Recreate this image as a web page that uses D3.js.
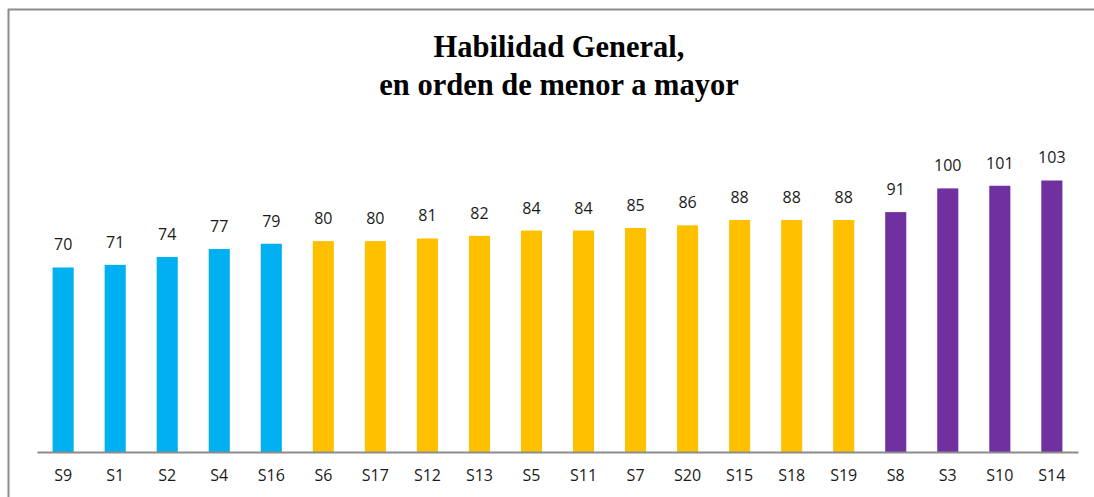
<!DOCTYPE html>
<html>
<head>
<meta charset="utf-8">
<script src="https://cdn.jsdelivr.net/npm/d3@7"></script>
<style>
  body { margin: 0; background: #fff; }
  .chart-title { font-family: "Liberation Serif", "Times New Roman", serif; font-weight: bold; font-size: 30.5px; fill: #000; }
  .val, .tick text { font-family: "Open Sans", sans-serif; font-size: 16px; fill: #1a1a1a; }
</style>
</head>
<body>
<div id="chart"></div>
<script>
var categories = ["S9", "S1", "S2", "S4", "S16", "S6", "S17", "S12", "S13", "S5",
                  "S11", "S7", "S20", "S15", "S18", "S19", "S8", "S3", "S10", "S14"];
var values = [70, 71, 74, 77, 79, 80, 80, 81, 82, 84, 84, 85, 86, 88, 88, 88, 91, 100, 101, 103];
var groups = ["low", "low", "low", "low", "low", "mid", "mid", "mid", "mid", "mid",
              "mid", "mid", "mid", "mid", "mid", "mid", "high", "high", "high", "high"];
var titleLines = ["Habilidad General,", "en orden de menor a mayor"];

var width = 1094,
    height = 497,
    margin = { left: 37, right: 16, top: 10, bottom: 45 },
    color = d3.scaleOrdinal().domain(["low", "mid", "high"]).range(["#00B0F0", "#FFC000", "#7030A0"]);

var svg = d3.select("#chart").append("svg")
    .attr("width", width)
    .attr("height", height);

// frame (only top and left visible)
svg.append("line").attr("x1", 8).attr("x2", width).attr("y1", 9.5).attr("y2", 9.5)
    .attr("stroke", "#8c8c8c").attr("stroke-width", 2);
svg.append("line").attr("x1", 8.5).attr("x2", 8.5).attr("y1", 9).attr("y2", height)
    .attr("stroke", "#8c8c8c").attr("stroke-width", 2);

var title = svg.append("text")
    .attr("class", "chart-title")
    .attr("text-anchor", "middle");
title.selectAll("tspan").data(titleLines).enter().append("tspan")
    .attr("x", 559)
    .attr("y", function(d, i) { return 57 + i * 38; })
    .text(function(d) { return d; });

var x = d3.scaleBand()
    .domain(categories)
    .range([margin.left, width - margin.right])
    .paddingInner(0.595)
    .paddingOuter(0.3);

var y = d3.scaleLinear()
    .domain([0, 103])
    .range([452, 452 - 103 * 2.636]);

var data = categories.map(function(c, i) { return { name: c, value: values[i], group: groups[i] }; });

var g = svg.append("g");

g.selectAll(".bar").data(data).enter().append("rect")
    .attr("class", "bar")
    .attr("x", function(d) { return x(d.name); })
    .attr("width", x.bandwidth())
    .attr("y", function(d) { return y(d.value); })
    .attr("height", function(d) { return y(0) - y(d.value); })
    .attr("fill", function(d) { return color(d.group); });

g.selectAll(".val").data(data).enter().append("text")
    .attr("class", "val")
    .attr("text-anchor", "middle")
    .attr("x", function(d) { return x(d.name) + x.bandwidth() / 2; })
    .attr("y", function(d) { return y(d.value) - 17; })
    .text(function(d) { return d.value; });

var axis = svg.append("g")
    .attr("transform", "translate(0," + y(0) + ")")
    .call(d3.axisBottom(x).tickSize(0).tickPadding(21));
axis.select(".domain").attr("stroke", "#8c8c8c").attr("stroke-width", 2);
axis.selectAll(".tick text").attr("dy", "0.5em");
</script>
</body>
</html>
